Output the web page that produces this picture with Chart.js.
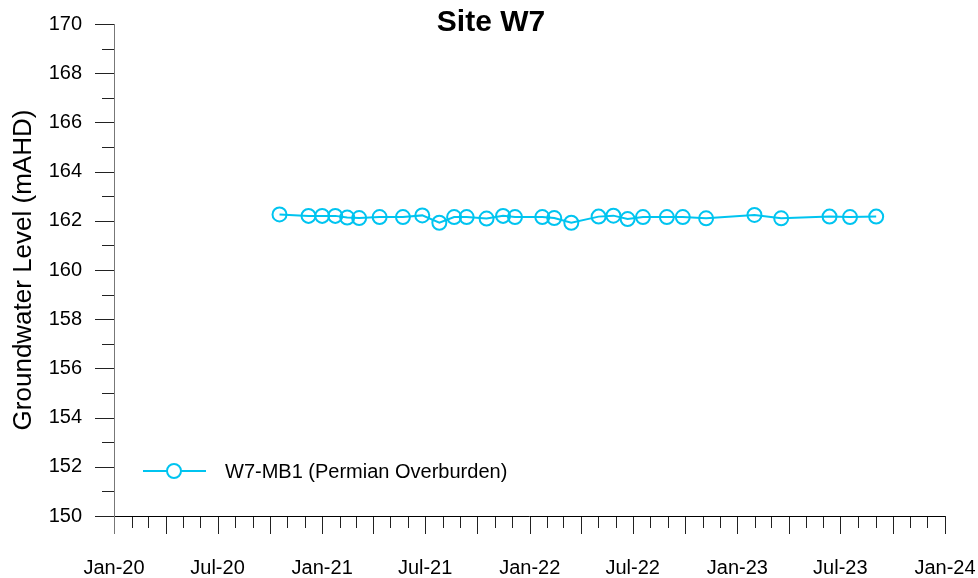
<!DOCTYPE html>
<html>
<head>
<meta charset="utf-8">
<script src="https://cdn.jsdelivr.net/npm/chart.js@4.4.1/dist/chart.umd.min.js"></script>
<style>
  html, body { margin: 0; padding: 0; background: #fff; }
  #wrap { width: 978px; height: 578px; }
</style>
</head>
<body>
<div id="wrap"><canvas id="myChart" width="978" height="578"></canvas></div>
<script>
// 観測データ
const sampleDates = [
    "2020-10-18", "2020-12-08", "2021-01-01", "2021-01-24", "2021-02-14",
    "2021-03-07", "2021-04-12", "2021-05-23", "2021-06-26", "2021-07-26",
    "2021-08-21", "2021-09-12", "2021-10-17", "2021-11-15", "2021-12-06",
    "2022-01-23", "2022-02-13", "2022-03-15", "2022-05-02", "2022-05-28",
    "2022-06-22", "2022-07-19", "2022-08-30", "2022-09-27", "2022-11-07",
    "2023-01-31", "2023-03-19", "2023-06-12", "2023-07-18", "2023-09-02",
];
const levelsMB1 = [
    162.26, 162.20, 162.20, 162.20, 162.13,
    162.11, 162.15, 162.15, 162.22, 161.92,
    162.15, 162.15, 162.09, 162.20, 162.15,
    162.15, 162.11, 161.92, 162.17, 162.21,
    162.07, 162.15, 162.15, 162.15, 162.10,
    162.24, 162.10, 162.17, 162.15, 162.17,
];
const seriesName = "W7-MB1 (Permian Overburden)";
const chartTitle = "Site W7";
const yTitle = "Groundwater Level (mAHD)";
const monthNames = ["Jan", "Feb", "Mar", "Apr", "May", "Jun", "Jul", "Aug", "Sep", "Oct", "Nov", "Dec"];
const startYear = 2020;
const endYear = 2024;
const yMin = 150;
const yMax = 170;

const FONT = "'Liberation Sans', Arial, sans-serif";
const LINE_COLOR = "#00c4f0";
const DAY = 86400000;
const origin = Date.UTC(startYear, 0, 1);

// 日付 → 経過日数
const toDays = (s) => {
    const [y, m, d] = s.split("-").map(Number);
    return (Date.UTC(y, m - 1, d) - origin) / DAY;
};

// 月初めの目盛り
const monthTicks = [];
for (let y = startYear; y <= endYear; y++) {
    for (let m = 0; m < 12; m++) {
        if (y === endYear && m > 0) break;
        monthTicks.push({ value: (Date.UTC(y, m, 1) - origin) / DAY, year: y, month: m });
    }
}

const points = sampleDates.map((d, i) => ({ x: toDays(d), y: levelsMB1[i] }));

// 目盛り線・軸線・タイトル・凡例を描く
const decorPlugin = {
    id: "decor",
    afterDraw(chart) {
        const { ctx, chartArea: { left, right, top, bottom }, scales: { x, y } } = chart;
        ctx.save();
        ctx.lineWidth = 1;

        // x軸の目盛り
        ctx.strokeStyle = "#222";
        x.ticks.forEach((t, i) => {
            const px = Math.round(x.getPixelForValue(t.value)) + 0.5;
            const len = i % 3 === 0 ? 18 : 12;
            ctx.beginPath();
            ctx.moveTo(px, bottom);
            ctx.lineTo(px, bottom + len);
            ctx.stroke();
        });

        // y軸の目盛り
        y.ticks.forEach((t) => {
            const py = Math.round(y.getPixelForValue(t.value)) + 0.5;
            const len = t.value % 2 === 0 ? 19 : 12;
            ctx.beginPath();
            ctx.moveTo(left - len, py);
            ctx.lineTo(left, py);
            ctx.stroke();
        });

        // 軸線
        ctx.strokeStyle = "#000";
        ctx.beginPath();
        ctx.moveTo(left, Math.round(bottom) + 0.5);
        ctx.lineTo(right, Math.round(bottom) + 0.5);
        ctx.stroke();
        ctx.strokeStyle = "#777";
        ctx.beginPath();
        ctx.moveTo(Math.round(left) + 0.5, top);
        ctx.lineTo(Math.round(left) + 0.5, bottom + 18);
        ctx.stroke();

        // タイトル
        ctx.fillStyle = "#000";
        ctx.font = "bold 30px " + FONT;
        ctx.textAlign = "center";
        ctx.textBaseline = "middle";
        ctx.fillText(chartTitle, chart.width / 2 + 2, 23);

        // 凡例
        const ly = 471;
        ctx.strokeStyle = LINE_COLOR;
        ctx.lineWidth = 2;
        ctx.beginPath();
        ctx.moveTo(143, ly);
        ctx.lineTo(206, ly);
        ctx.stroke();
        ctx.fillStyle = "#fff";
        ctx.beginPath();
        ctx.arc(174, ly, 7, 0, Math.PI * 2);
        ctx.fill();
        ctx.stroke();
        ctx.fillStyle = "#000";
        ctx.font = "20px " + FONT;
        ctx.textAlign = "left";
        ctx.fillText(seriesName, 225, ly + 1);
        ctx.restore();
    },
};

const ctx = document.getElementById("myChart").getContext("2d");
const chart = new Chart(ctx, {
    type: "line",
    data: {
        datasets: [{
            label: seriesName,
            data: points,
            borderColor: LINE_COLOR,
            borderWidth: 2,
            pointRadius: 7,
            pointHoverRadius: 7,
            pointBorderWidth: 2,
            pointBackgroundColor: "rgba(255,255,255,0)",
            pointBorderColor: LINE_COLOR,
            tension: 0,
            clip: false,
        }],
    },
    options: {
        responsive: false,
        animation: false,
        events: [],
        layout: { padding: { top: 24, right: 33, left: 0, bottom: 0 } },
        plugins: {
            legend: { display: false },
            title: { display: false },
            tooltip: { enabled: false },
        },
        scales: {
            x: {
                type: "linear",
                min: 0,
                max: monthTicks[monthTicks.length - 1].value,
                afterBuildTicks: (scale) => {
                    scale.ticks = monthTicks.map((t) => ({ value: t.value }));
                },
                afterFit: (scale) => {
                    scale.height = 62;
                    scale.paddingLeft = 0;
                    scale.paddingRight = 0;
                },
                grid: { display: false, drawTicks: false },
                border: { display: false },
                ticks: {
                    autoSkip: false,
                    maxRotation: 0,
                    padding: 40,
                    color: "#000",
                    font: { family: FONT, size: 20 },
                    callback: (value, index) => {
                        const t = monthTicks[index];
                        if (!t || t.month % 6 !== 0) return "";
                        return monthNames[t.month] + "-" + String(t.year).slice(2);
                    },
                },
            },
            y: {
                min: yMin,
                max: yMax,
                afterFit: (scale) => {
                    scale.width = 114;
                    scale.paddingTop = 0;
                    scale.paddingBottom = 0;
                },
                grid: { display: false, drawTicks: false },
                border: { display: false },
                title: {
                    display: true,
                    text: yTitle,
                    color: "#000",
                    font: { family: FONT, size: 26 },
                    padding: { top: 8, bottom: 0 },
                },
                ticks: {
                    stepSize: 1,
                    autoSkip: false,
                    padding: 32,
                    color: "#000",
                    font: { family: FONT, size: 20 },
                    callback: (value) => (value % 2 === 0 ? String(value) : ""),
                },
            },
        },
    },
    plugins: [decorPlugin],
});
</script>
</body>
</html>
